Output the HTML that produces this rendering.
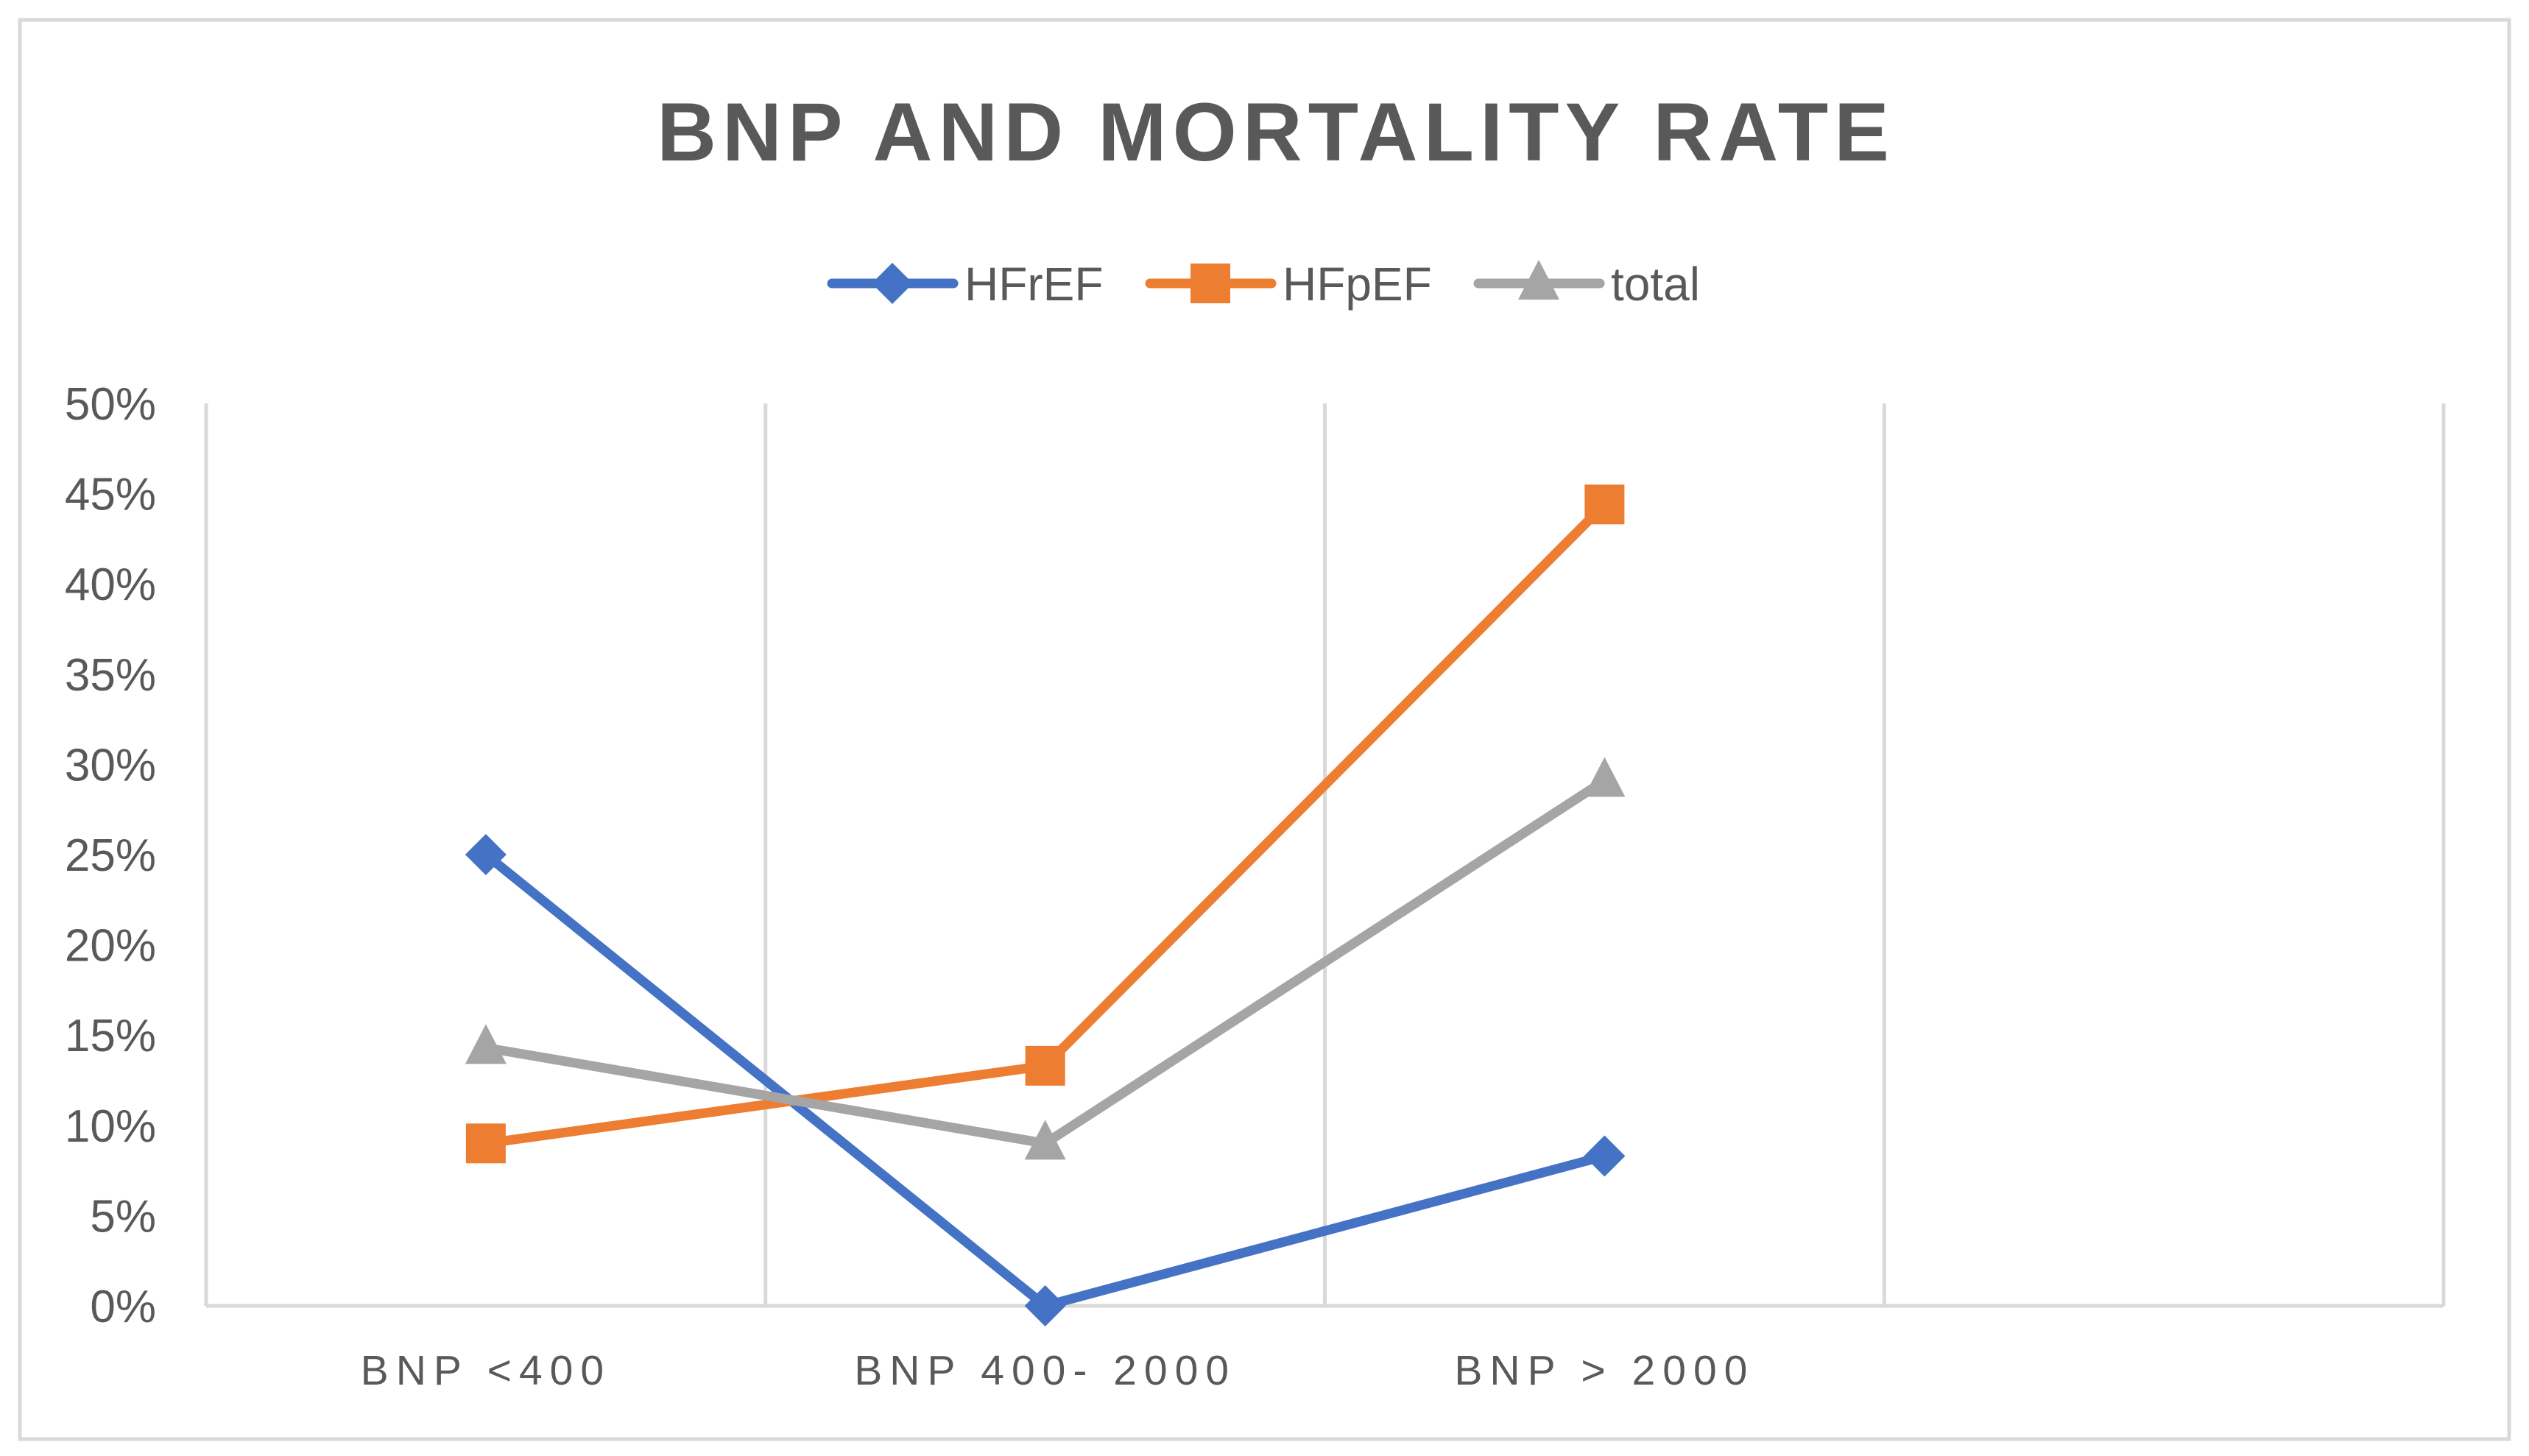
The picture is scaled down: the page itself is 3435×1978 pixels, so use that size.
<!DOCTYPE html>
<html><head><meta charset="utf-8"><style>
html,body{margin:0;padding:0;background:#fff;}
svg{display:block;font-family:"Liberation Sans",sans-serif;}
</style></head><body>
<svg id="chart" width="3435" height="1978" viewBox="0 0 3435 1978">
<rect x="27" y="27" width="3381" height="1928" fill="#fff" stroke="#d9d9d9" stroke-width="5"/>
<text x="1733" y="218" text-anchor="middle" font-size="112" font-weight="bold" fill="#595959" letter-spacing="8">BNP AND MORTALITY RATE</text>
<g id="legend"></g>
<g id="grid"></g>
<g id="yaxis"></g>
<g id="xaxis"></g>
<g id="series"></g>
</svg>
<script>
const categories = ["BNP <400", "BNP 400- 2000", "BNP > 2000", ""];
const seriesNames = ["HFrEF", "HFpEF", "total"];
const hfref = [0.25, 0.0, 0.083];
const hfpef = [0.09, 0.133, 0.444];
const total = [0.143, 0.09, 0.291];
const yTicks = [0, 0.05, 0.1, 0.15, 0.2, 0.25, 0.3, 0.35, 0.4, 0.45, 0.5];

const NS = "http://www.w3.org/2000/svg";
const L = 280, R = 3319, T = 548, B = 1774, YMAX = 0.5;
const catW = (R - L) / categories.length;
const xPos = i => L + catW * (i + 0.5);
const yPos = v => B - (v / YMAX) * (B - T);
function mk(tag, attrs, parent) {
  const e = document.createElementNS(NS, tag);
  for (const k in attrs) e.setAttribute(k, attrs[k]);
  parent.appendChild(e);
  return e;
}
const grid = document.getElementById("grid");
for (let i = 0; i <= categories.length; i++) {
  const x = L + catW * i;
  const g = mk("line", {x1: x, x2: x, y1: T, y2: B, stroke: "#d9d9d9", "stroke-width": 5}, grid);
  
  
}
const base = mk("line", {x1: L, x2: R, y1: B, y2: B, stroke: "#d9d9d9", "stroke-width": 5}, grid);



const yaxis = document.getElementById("yaxis");
yTicks.forEach(v => {
  const t = mk("text", {x: 212, y: yPos(v) + 22, "text-anchor": "end", "font-size": 62, fill: "#595959"}, yaxis);
  t.textContent = Math.round(v * 100) + "%";
  
  
});
const xaxis = document.getElementById("xaxis");
categories.forEach((c, i) => {
  if (!c) return;
  const t = mk("text", {x: xPos(i), y: 1881, "text-anchor": "middle", "font-size": 57, fill: "#595959", "letter-spacing": 10}, xaxis);
  t.textContent = c;
  
  
});

const colors = ["#4472c4", "#ed7d31", "#a5a5a5"];
const data = [hfref, hfpef, total];
function marker(type, x, y, color, parent) {
  let m;
  if (type === 0) m = mk("polygon", {points: `${x},${y-28} ${x+28},${y} ${x},${y+28} ${x-28},${y}`, fill: color}, parent);
  else if (type === 1) m = mk("rect", {x: x-27, y: y-27, width: 54, height: 54, fill: color}, parent);
  else m = mk("polygon", {points: `${x},${y-32} ${x+28},${y+22} ${x-28},${y+22}`, fill: color}, parent);
  return m;
}
const sg = document.getElementById("series");
data.forEach((vals, s) => {
  const pts = vals.map((v, i) => xPos(i) + "," + yPos(v)).join(" ");
  const pl = mk("polyline", {points: pts, fill: "none", stroke: colors[s], "stroke-width": 13, "stroke-linejoin": "round", "stroke-linecap": "round"}, sg);
  
  
});
data.forEach((vals, s) => {
  vals.forEach((v, i) => {
    const m = marker(s, xPos(i), yPos(v), colors[s], sg);
    
    
  });
});

const legend = document.getElementById("legend");
const legX = [1130, 1562, 2008];
seriesNames.forEach((n, s) => {
  const x0 = legX[s], y = 385;
  const ln = mk("line", {x1: x0, x2: x0 + 165, y1: y, y2: y, stroke: colors[s], "stroke-width": 13, "stroke-linecap": "round"}, legend);
  
  
  const m = marker(s, x0 + 82, y, colors[s], legend);
  
  
  const t = mk("text", {x: x0 + 180, y: y + 23, "font-size": 64, fill: "#595959"}, legend);
  t.textContent = n;
  
  
});
</script>
</body></html>
